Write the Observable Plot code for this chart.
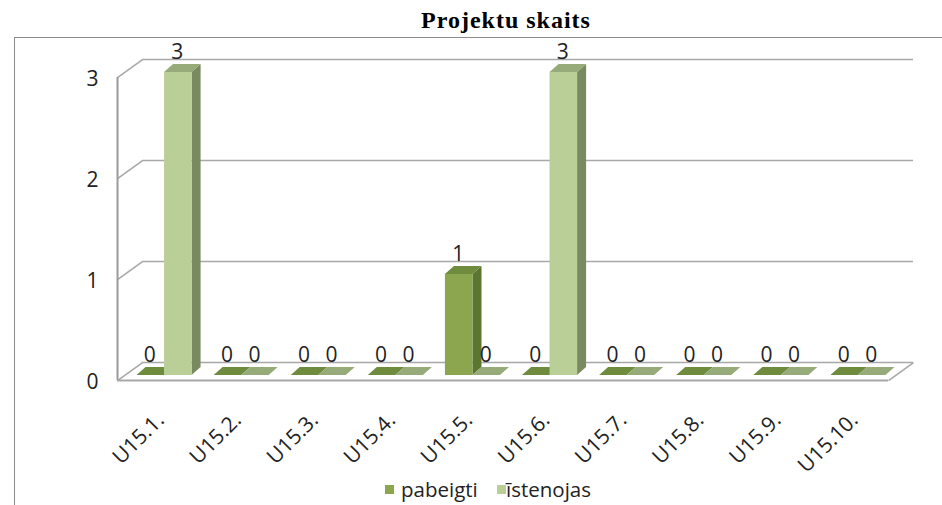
<!DOCTYPE html>
<html>
<head>
<meta charset="utf-8">
<script src="https://cdn.jsdelivr.net/npm/d3@7"></script>
<script src="https://cdn.jsdelivr.net/npm/@observablehq/plot@0.6"></script>
<style>
  html, body { margin: 0; padding: 0; background: #fff; }
  #wrap { position: relative; width: 942px; height: 505px; overflow: hidden; background: #fff; }
  #frame { position: absolute; left: 14px; top: 37px; width: 1000px; height: 600px; border-left: 1.5px solid #8c8c8c; border-top: 1.5px solid #8c8c8c; }
  #title { position: absolute; top: 7px; left: 506px; transform: translateX(-50%); white-space: nowrap;
           font-family: "Liberation Serif", "Times New Roman", serif; font-weight: bold; font-size: 24px; letter-spacing: 1px; color: #000; }
  #chart { position: absolute; left: 0; top: 0; }
  .sq { position: absolute; width: 9px; height: 9px; top: 485px; }
  .lt { position: absolute; top: 477px; font-family: "Open Sans", sans-serif; font-size: 20.5px; color: #222; line-height: 24px; white-space: nowrap; }
</style>
</head>
<body>
<div id="wrap">
  <div id="frame"></div>
  <div id="chart"></div>
  <div id="title">Projektu skaits</div>
  <div id="legend"></div>
</div>
<script>
// ---- data ----
const categories = ["U15.1.", "U15.2.", "U15.3.", "U15.4.", "U15.5.", "U15.6.", "U15.7.", "U15.8.", "U15.9.", "U15.10."];
const pabeigti  = [0, 0, 0, 0, 1, 0, 0, 0, 0, 0];
const istenojas = [3, 0, 0, 0, 0, 3, 0, 0, 0, 0];
const seriesNames = ["pabeigti", "īstenojas"];
const yTicks = [0, 1, 2, 3];

// ---- styling / geometry (not data) ----
const colors = {
  front: ["#8ba64f", "#b9cf97"],
  top:   ["#6e8b3e", "#96aa7a"],
  side:  ["#5c7531", "#7a8a60"]
};
const BAR_LEFT = 0.143, BAR_MID = 0.5, BAR_RIGHT = 0.857; // within a category band
const DX = 0.117, DY = 0.079;            // bar depth in data units
const FRONT = {x: -0.11, y: -0.05};      // front wall offset
const BACK  = {x: 0.214, y: 0.128};      // back wall offset
const grid = "#a8a8a8";

// ---- build tables ----
const values = [pabeigti, istenojas];
const bars = [];
values.forEach((vals, s) => vals.forEach((v, i) => {
  const a = i + (s === 0 ? BAR_LEFT : BAR_MID);
  const b = i + (s === 0 ? BAR_MID : BAR_RIGHT);
  bars.push({id: `${s}-${i}`, s, i, v, a, b});
}));
const topFaces = s => bars.filter(d => d.s === s).flatMap(d => [
  {id: d.id, y: d.v, x1: d.a, x2: d.b},
  {id: d.id, y: d.v + DY, x1: d.a + DX, x2: d.b + DX}
]);
const sideFaces = s => bars.filter(d => d.s === s && d.v > 0).flatMap(d => [
  {id: d.id, x: d.b, y1: 0, y2: d.v},
  {id: d.id, x: d.b + DX, y1: DY, y2: d.v + DY}
]);

const marks = [
  Plot.ruleY(yTicks, {y: v => v + BACK.y, x1: BACK.x, x2: categories.length + BACK.x, stroke: grid, strokeWidth: 1.6}),
  Plot.link(yTicks, {x1: FRONT.x, y1: v => v + FRONT.y, x2: BACK.x, y2: v => v + BACK.y, stroke: grid, strokeWidth: 1.6}),
  Plot.ruleX([FRONT.x], {y1: FRONT.y, y2: yTicks[yTicks.length - 1] + FRONT.y, stroke: "#9a9a9a", strokeWidth: 2}),
  Plot.ruleY([FRONT.y], {x1: FRONT.x, x2: categories.length + FRONT.x, stroke: grid, strokeWidth: 2}),
  Plot.link([0], {x1: categories.length + FRONT.x, y1: FRONT.y, x2: categories.length + BACK.x, y2: BACK.y, stroke: grid, strokeWidth: 1.6}),
];
for (let s = 0; s < 2; s++) marks.push(Plot.areaY(sideFaces(s), {x: "x", y1: "y1", y2: "y2", z: "id", fill: colors.side[s]}));
for (let s = 0; s < 2; s++) marks.push(Plot.areaX(topFaces(s), {y: "y", x1: "x1", x2: "x2", z: "id", fill: colors.top[s]}));
for (let s = 0; s < 2; s++) marks.push(Plot.rect(bars.filter(d => d.s === s && d.v > 0), {x1: "a", x2: "b", y1: 0, y2: "v", fill: colors.front[s]}));
marks.push(
  Plot.text(bars, {x: d => (d.a + d.b) / 2, y: "v", text: d => String(d.v), dy: -20, dx: -1, fill: "#222"}),
  Plot.text(yTicks, {x: FRONT.x, y: v => v + FRONT.y, text: v => String(v), textAnchor: "end", dx: -19, dy: 2, fill: "#222"}),
  Plot.text(categories, {x: (d, i) => i + 0.5, y: 0, text: d => d, rotate: -45, textAnchor: "end", dx: -4, dy: 41, fill: "#222"})
);

const chart = Plot.plot({
  width: 942,
  height: 470,
  x: {type: "linear", domain: [0, categories.length], range: [125.5, 896.5], axis: null},
  y: {type: "linear", domain: [0, 3], range: [375, 72], axis: null},
  style: {fontFamily: "Open Sans, sans-serif", fontSize: "21px", background: "transparent", overflow: "visible"},
  marks
});
document.getElementById("chart").appendChild(chart);

const legend = document.getElementById("legend");
const legendPos = [{sq: 385, tx: 401}, {sq: 497, tx: 506}];
seriesNames.forEach((name, s) => {
  const sq = document.createElement("div");
  sq.className = "sq"; sq.style.left = legendPos[s].sq + "px"; sq.style.background = colors.front[s];
  const tx = document.createElement("div");
  tx.className = "lt"; tx.style.left = legendPos[s].tx + "px"; tx.textContent = name;
  legend.appendChild(sq); legend.appendChild(tx);
});
</script>
</body>
</html>
